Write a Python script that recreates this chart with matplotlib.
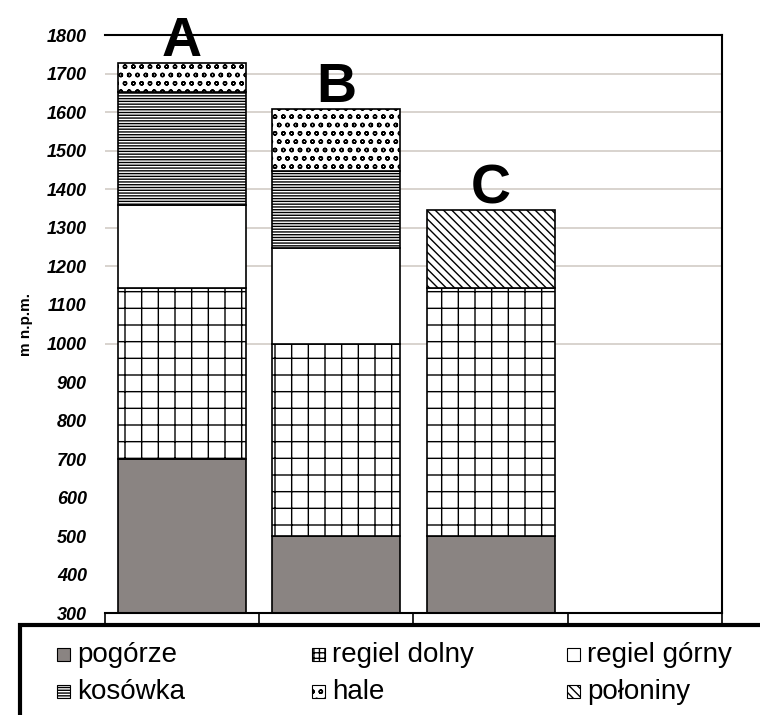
import matplotlib.pyplot as plt
from matplotlib.patches import Rectangle
import numpy as np

plt.rcParams['font.family'] = ['Liberation Sans', 'DejaVu Sans']
plt.rcParams['hatch.linewidth'] = 1.0

# data (m n.p.m.)
profiles = ['A', 'B', 'C', '']
base = 300
pogorze = [700, 500, 500, 0]
regiel_dolny = [1145, 1000, 1145, 0]
regiel_gorny = [1358, 1247, 0, 0]
kosowka = [1652, 1447, 0, 0]
hale = [1728, 1608, 0, 0]
poloniny = [0, 0, 1345, 0]

grid_levels = [1000, 1200, 1300, 1400, 1500, 1600, 1700]
yticks = list(range(300, 1801, 100))

# zone styles: name, tops, facecolor, hatch in bars, hatch in legend key
zones = [
    ('pogórze', pogorze, '#8a8482', None, None),
    ('regiel dolny', regiel_dolny, 'white', '+', '+++'),
    ('regiel górny', regiel_gorny, 'white', None, None),
    ('kosówka', kosowka, 'white', '------', '------'),
    ('hale', hale, 'white', 'oo', 'oo'),
    ('połoniny', poloniny, 'white', '\\\\\\\\', '\\\\\\\\'),
]

fig = plt.figure(figsize=(7.6, 7.15), dpi=100)
ax = fig.add_axes([0.138, 0.142, 0.812, 0.809])

x = np.arange(len(profiles))
width = 0.83

for i in range(len(profiles)):
    bottom = base
    for name, tops, fc, hatch, _ in zones:
        top = tops[i]
        if top <= 0:
            continue
        ax.bar(x[i], top - bottom, width, bottom=bottom, color=fc,
               edgecolor='black', linewidth=1.2, hatch=hatch, zorder=2)
        bottom = top
    if profiles[i]:
        ax.text(x[i], bottom + 18, profiles[i], ha='center', va='baseline',
                fontsize=40, fontweight='bold', zorder=3)

ax.hlines(grid_levels, -0.5, 3.5, color='#d2ccc6', linewidth=1.2, zorder=1)

ax.set_xlim(-0.5, 3.5)
ax.set_ylim(300, 1800)
ax.set_yticks(yticks)
ax.set_yticklabels([str(v) for v in yticks], fontsize=13, fontweight='bold',
                   fontstyle='italic')
ax.tick_params(axis='y', length=0, pad=13)
ax.set_xticks([-0.5, 0.5, 1.5, 2.5, 3.5])
ax.set_xticklabels([])
ax.tick_params(axis='x', direction='out', length=7, width=1.2)
ax.spines['left'].set_visible(False)
for s in ['top', 'right', 'bottom']:
    ax.spines[s].set_linewidth(1.5)
ax.set_ylabel('m n.p.m.', fontsize=11, fontweight='bold', labelpad=10)

# legend box (extends past figure edge like the scan)
fig.patches.append(Rectangle((20 / 760, -0.02), 1.0, (715 - 625) / 715 + 0.02,
                             transform=fig.transFigure, facecolor='white',
                             edgecolor='black', linewidth=3, clip_on=False))
order = ['pogórze', 'regiel dolny', 'regiel górny', 'kosówka', 'hale', 'połoniny']
style = {name: (fc, lh) for name, _, fc, _, lh in zones}
col_x = [57, 312, 567]
row_y = [655, 692]
for k, name in enumerate(order):
    fc, hatch = style[name]
    cx = col_x[k % 3] / 760
    cy = 1 - row_y[k // 3] / 715
    fig.patches.append(Rectangle((cx, cy - 6 / 715), 13 / 760, 13 / 715,
                                 transform=fig.transFigure, facecolor=fc,
                                 edgecolor='black', linewidth=0.8,
                                 hatch=hatch))
    fig.text(cx + 20 / 760, cy, name, fontsize=20, va='center', ha='left')

fig.savefig('out.png', dpi=100)
